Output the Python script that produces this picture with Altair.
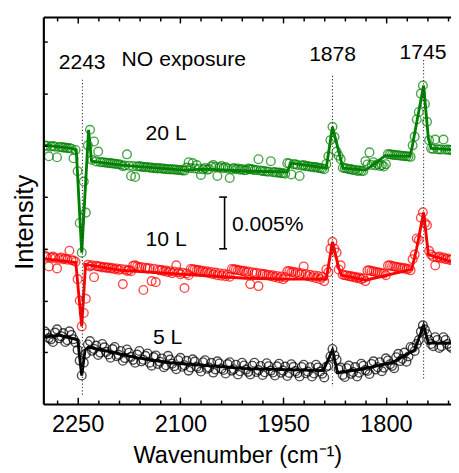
import altair as alt
import pandas as pd

FONT = "Liberation Sans"

# sampling grids of the measured spectra (cm-1)
wn_grid = [2298, 2292, 2286, 2280, 2274, 2268, 2262, 2256, 2250, 2244,
           2238, 2232, 2226, 2220, 2214, 2208, 2202, 2196, 2190, 2184,
           2178, 2172, 2166, 2160, 2154, 2148, 2142, 2136, 2130, 2124,
           2118, 2112, 2106, 2100, 2094, 2088, 2082, 2076, 2070, 2064,
           2058, 2052, 2046, 2040, 2034, 2028, 2022, 2016, 2010, 2004,
           1998, 1992, 1986, 1980, 1974, 1968, 1962, 1956, 1950, 1944,
           1938, 1932, 1926, 1920, 1914, 1908, 1902, 1896, 1890, 1884,
           1878, 1872, 1866, 1860, 1854, 1848, 1842, 1836, 1830, 1824,
           1818, 1812, 1806, 1800, 1794, 1788, 1782, 1776, 1770, 1764,
           1758, 1752, 1746, 1740, 1734, 1728, 1722, 1716, 1710, 1704]

wn_grid2 = [2295, 2289, 2283, 2277, 2271, 2265, 2259, 2253, 2247, 2241,
            2235, 2229, 2223, 2217, 2211, 2205, 2199, 2193, 2187, 2181,
            2175, 2169, 2163, 2157, 2151, 2145, 2139, 2133, 2127, 2121,
            2115, 2109, 2103, 2097, 2091, 2085, 2079, 2073, 2067, 2061,
            2055, 2049, 2043, 2037, 2031, 2025, 2019, 2013, 2007, 2001,
            1995, 1989, 1983, 1977, 1971, 1965, 1959, 1953, 1947, 1941,
            1935, 1929, 1923, 1917, 1911, 1905, 1899, 1893, 1887, 1881,
            1875, 1869, 1863, 1857, 1851, 1845, 1839, 1833, 1827, 1821,
            1815, 1809, 1803, 1797, 1791, 1785, 1779, 1773, 1767, 1761,
            1755, 1749, 1743, 1737, 1731, 1725, 1719, 1713, 1707]

# intensities (offset traces, units of 1e-4 %)
green_y = [249.9, 239.4, 249.4, 238.5, 248.4, 248.0, 247.5, 237.5, 225.0, 146.3,
           185.0, 265.0, 253.7, 244.0, 233.7, 233.2, 232.8, 232.3, 231.8, 229.9,
           241.3, 220.4, 219.5, 229.9, 229.4, 229.0, 228.5, 228.0, 228.0, 227.5,
           227.0, 227.0, 226.6, 226.1, 225.6, 233.7, 232.8, 230.9, 221.4, 228.0,
           227.0, 230.9, 220.4, 229.9, 229.0, 218.5, 228.0, 227.5, 227.0, 226.1,
           227.0, 226.1, 236.6, 225.2, 224.7, 234.7, 224.2, 223.7, 223.2, 232.8,
           221.9, 231.8, 220.4, 230.9, 229.9, 229.4, 229.0, 228.0, 227.0, 239.4,
           267.9, 244.0, 236.6, 228.0, 227.0, 226.1, 225.2, 225.2, 234.7, 243.2,
           233.7, 231.8, 230.9, 231.8, 241.3, 240.8, 240.4, 239.9, 239.4, 238.9,
           258.4, 282.2, 307.8, 272.7, 247.0, 255.6, 246.0, 255.6, 246.0, 245.6]

green_y2 = [249.5, 249.0, 248.7, 248.3, 247.8, 247.3, 246.8, 245.5, 175.0, 215.0,
            250.0, 236.0, 234.5, 233.8, 233.5, 233.0, 232.5, 231.9, 231.3, 230.6,
            230.3, 229.9, 229.6, 229.2, 228.8, 228.4, 228.0, 227.7, 227.4, 227.0,
            226.7, 226.4, 226.1, 225.8, 228.5, 228.0, 227.6, 227.2, 226.8, 226.4,
            229.5, 229.0, 228.5, 228.0, 227.6, 227.2, 226.8, 226.4, 226.0, 227.5,
            226.8, 226.2, 225.6, 225.0, 224.5, 224.0, 223.5, 223.0, 222.6, 232.5,
            231.8, 231.0, 230.4, 229.8, 229.3, 228.7, 228.2, 227.7, 232.0, 255.0,
            258.0, 240.0, 228.3, 227.7, 227.0, 226.4, 225.8, 225.3, 231.5, 231.0,
            230.5, 230.0, 229.5, 241.5, 241.0, 240.5, 240.0, 239.6, 239.2, 250.0,
            275.0, 300.0, 290.0, 255.0, 246.5, 246.2, 246.0, 245.8, 245.6]

red_y = [143.5, 133.0, 142.5, 131.1, 141.6, 140.6, 148.2, 138.7, 120.7, 75.1,
         101.7, 133.0, 122.6, 133.0, 132.0, 131.6, 131.1, 130.2, 129.7, 115.9,
         128.7, 128.3, 134.0, 132.0, 110.2, 131.1, 118.8, 117.8, 129.2, 128.3,
         127.3, 126.4, 134.0, 125.4, 112.1, 124.5, 130.2, 129.2, 128.3, 127.3,
         126.4, 125.4, 124.5, 124.0, 123.5, 123.1, 130.2, 129.2, 128.3, 127.3,
         115.9, 126.4, 114.0, 125.4, 124.5, 123.5, 122.6, 121.6, 120.7, 128.3,
         127.3, 126.4, 125.4, 133.0, 123.5, 122.6, 121.6, 120.7, 118.8, 127.3,
         156.8, 146.3, 134.0, 124.5, 123.5, 122.6, 121.6, 120.7, 118.8, 129.2,
         128.3, 127.3, 126.4, 124.5, 134.0, 133.0, 132.0, 131.1, 130.2, 129.2,
         144.4, 158.7, 185.3, 172.9, 144.4, 134.0, 142.5, 141.6, 140.6, 139.7]

red_y2 = [142.0, 141.5, 141.0, 140.5, 140.0, 139.5, 139.0, 137.5, 100.0, 88.0,
          134.5, 134.0, 133.5, 133.0, 132.5, 132.0, 131.5, 131.0, 130.5, 130.0,
          129.4, 133.5, 133.0, 132.4, 131.8, 131.2, 130.6, 130.0, 129.5, 129.0,
          128.4, 127.9, 127.3, 126.8, 126.2, 130.5, 130.0, 129.4, 128.8, 128.2,
          127.6, 127.0, 126.4, 125.8, 125.2, 130.5, 129.9, 129.3, 128.7, 128.0,
          127.4, 126.8, 126.2, 125.6, 125.0, 124.4, 123.8, 123.2, 122.6, 128.5,
          127.8, 127.1, 126.4, 125.7, 125.0, 124.3, 123.6, 122.9, 130.0, 150.0,
          150.0, 130.0, 125.0, 124.3, 123.6, 122.9, 122.2, 121.5, 129.0, 128.3,
          127.6, 126.9, 126.2, 133.8, 133.2, 132.6, 132.0, 131.4, 130.8, 140.0,
          160.0, 180.0, 175.0, 148.0, 142.5, 141.6, 140.8, 140.0, 139.2]

black_y = [70.3, 63.7, 59.9, 72.2, 65.6, 59.9, 70.3, 62.7, 52.3, 27.6,
           48.5, 60.8, 53.2, 47.5, 58.0, 50.4, 44.7, 55.1, 47.5, 41.8,
           52.7, 45.6, 39.9, 51.3, 42.8, 48.9, 37.1, 47.0, 40.9, 35.6,
           46.6, 39.0, 33.7, 44.7, 37.5, 32.3, 43.2, 36.1, 31.4, 42.3,
           35.2, 30.4, 41.3, 34.2, 29.5, 40.4, 33.7, 28.5, 39.9, 33.3,
           28.5, 39.9, 32.8, 28.0, 39.4, 32.3, 27.6, 39.0, 32.3, 27.1,
           38.5, 31.8, 26.6, 38.0, 31.4, 26.6, 38.0, 31.4, 25.7, 37.0,
           53.2, 42.8, 35.2, 26.1, 37.1, 30.9, 26.6, 39.0, 32.8, 29.0,
           41.3, 35.6, 31.8, 44.2, 38.5, 34.7, 48.5, 43.7, 40.9, 55.1,
           51.3, 61.8, 76.0, 67.5, 58.0, 64.6, 54.2, 64.6, 58.0, 54.2]

black_y2 = [68.0, 62.5, 69.0, 63.5, 68.6, 61.7, 66.8, 59.5, 42.0, 40.0,
            57.6, 51.4, 56.5, 49.7, 54.8, 47.9, 53.1, 46.2, 51.3, 44.4,
            49.6, 42.7, 47.8, 41.2, 46.6, 40.0, 45.4, 38.8, 44.1, 37.5,
            42.9, 36.6, 42.3, 36.0, 41.7, 35.3, 41.0, 34.7, 40.4, 34.1,
            39.8, 33.5, 39.2, 32.9, 38.6, 32.3, 38.0, 31.7, 37.3, 31.1,
            37.0, 30.9, 36.8, 30.7, 36.6, 30.5, 36.4, 30.3, 36.2, 30.1,
            36.0, 29.9, 35.8, 29.7, 35.6, 29.5, 35.4, 29.3, 36.0, 46.0,
            47.0, 33.5, 28.1, 34.6, 29.2, 35.7, 30.3, 37.0, 31.9, 38.7,
            33.5, 40.4, 35.2, 42.1, 36.9, 45.2, 41.5, 49.7, 46.0, 54.2,
            58.0, 70.0, 72.0, 61.9, 55.9, 61.9, 55.9, 61.9, 55.9]

# fitted curves (knots)
green_fit_wn = [2300, 2258.4, 2252.0, 2244, 2234.0, 2229.7, 2186.7, 2095.0, 2066.3, 2004.7,
                1944.4, 1938.7, 1887.1, 1878, 1862.7, 1829.7, 1825.4, 1801.1, 1765.2, 1762.4,
                1745, 1738.0, 1733.7, 1705]
green_fit_y = [250.3, 247.0, 245.6, 146.3, 265.0, 234.6, 230.9, 226.1, 227.0, 225.2,
               224.2, 232.8, 228.0, 267.9, 228.0, 226.1, 228.0, 240.0, 239.4, 246.0,
               307.8, 256.5, 247.0, 246.0]

red_fit_wn = [2300, 2252.7, 2244, 2238.4, 2186.7, 2004.7, 1944.4, 1887.1, 1878, 1869.1,
              1864.6, 1829.7, 1762.4, 1755.2, 1745, 1738.0, 1705]
red_fit_y = [140.6, 136.8, 75.1, 134.9, 129.2, 121.6, 120.7, 120.7, 156.8, 132.0,
             124.5, 119.7, 130.2, 150.0, 185.3, 144.4, 137.8]

black_fit_wn = [2300, 2277.1, 2258.4, 2249.8, 2244, 2239.1, 2234.0, 2162.4, 2115.1, 2004.7,
                1891.4, 1878, 1870.6, 1838.3, 1791.0, 1758.1, 1745, 1738.0, 1705]
black_fit_y = [64.6, 66.5, 63.7, 61.8, 27.6, 52.3, 55.1, 44.7, 39.9, 34.2,
               32.3, 52.3, 30.4, 33.3, 39.9, 52.3, 76.0, 58.9, 58.9]

series_names = ["20 L", "10 L", "5 L"]
series_colors = ["#008000", "#ff0000", "#000000"]
series_label_wn = [2120.8, 2120.8, 2118.6]
series_label_y = [255.6, 153.0, 58.0]

peak_labels = ["2243", "1878", "1745"]
peak_wn = [2243, 1878, 1745]
peak_label_wn = [2243.4, 1877.8, 1745.9]
peak_label_y = [324.0, 331.6, 333.5]
peak_line_top = [313.5, 317.3, 332.5]
peak_line_bottom = [7.6, 17.0, 22.8]

title_text = ["NO exposure"]
title_wn = [2095]
title_y = [326.8]

bar_wn = [2035.5]
bar_low = [150]
bar_high = [200]
cap_left = [2043.4, 2043.4]
cap_right = [2031.9, 2031.9]
cap_y = [150, 200]
bar_text = ["0.005%"]
bar_text_wn = [2024.7]
bar_text_y = [167.2]

x_major = [2250, 2100, 1950, 1800]
x_minor = [2280, 2220, 2190, 2160, 2130, 2070, 2040, 2010, 1980, 1920, 1890,
           1860, 1830, 1770, 1740, 1710]
y_ticks = [50, 100, 150, 200, 250, 300, 350]

# ---------------- data frames ----------------
circles = pd.concat(
    [pd.DataFrame({"wn": wn_grid, "y": ys, "series": n})
     for ys, n in zip([green_y, red_y, black_y], series_names)]
    + [pd.DataFrame({"wn": wn_grid2, "y": ys, "series": n})
       for ys, n in zip([green_y2, red_y2, black_y2], series_names)]
)
fits = pd.concat([
    pd.DataFrame({"wn": w, "y": ys, "series": n})
    for w, ys, n in zip([green_fit_wn, red_fit_wn, black_fit_wn],
                        [green_fit_y, red_fit_y, black_fit_y], series_names)
])
texts = pd.DataFrame({
    "wn": series_label_wn + peak_label_wn + title_wn,
    "y": series_label_y + peak_label_y + title_y,
    "label": series_names + peak_labels + title_text,
})
rules = pd.DataFrame({"wn": peak_wn, "top": peak_line_top, "bottom": peak_line_bottom})
bar = pd.DataFrame({"wn": bar_wn, "lo": bar_low, "hi": bar_high})
caps = pd.DataFrame({"x1": cap_left, "x2": cap_right, "y": cap_y})
bar_lab = pd.DataFrame({"wn": bar_text_wn, "y": bar_text_y, "label": bar_text})

x_scale = alt.Scale(domain=[1705, 2300], reverse=True, nice=False, zero=False)
y_scale = alt.Scale(domain=[0, 374], nice=False, zero=False)
color = alt.Color("series:N", scale=alt.Scale(domain=series_names, range=series_colors), legend=None)

common_axis = dict(grid=False, domainColor="black", tickColor="black", zindex=1)

ax_bottom_major = alt.Axis(
    orient="bottom", values=x_major, format="d", labelFlush=False,
    labelFont=FONT, labelFontSize=24, labelColor="black", labelBaseline="alphabetic",
    labelPadding=35, tickSize={"expr": "-7"}, tickWidth=1.5, domainWidth=2.2,
    title="Wavenumber (cm\u207b\u00b9)", titleFont=FONT, titleFontSize=24,
    titleFontWeight="normal", titleColor="black", titleX=197.5, titleY=59.7,
    titleBaseline="alphabetic", titleAlign="center", **common_axis)
ax_bottom_minor = alt.Axis(
    orient="bottom", values=x_minor, labels=False, domain=False,
    tickSize={"expr": "-4"}, tickWidth=1.5, title=None, **common_axis)
ax_top_major = alt.Axis(
    orient="top", values=x_major, labels=False, domainWidth=2.2,
    tickSize={"expr": "-6"}, tickWidth=1.5, title=None, **common_axis)
ax_top_minor = alt.Axis(
    orient="top", values=x_minor, labels=False, domain=False,
    tickSize={"expr": "-4"}, tickWidth=1.5, title=None, **common_axis)
ax_left = alt.Axis(
    orient="left", values=y_ticks, labels=False, domainWidth=2.2,
    tickSize={"expr": "-4"}, tickWidth=1.5,
    title="Intensity", titleFont=FONT, titleFontSize=26, titleFontWeight="normal",
    titleColor="black", titleX=-11, titleY=208.5, titleAngle=270,
    titleBaseline="alphabetic", titleAlign="center", **common_axis)

pts = alt.Chart(circles).mark_point(
    shape="circle", filled=False, size=78, strokeWidth=1.4, clip=True
).encode(
    x=alt.X("wn:Q", scale=x_scale, axis=ax_bottom_major),
    y=alt.Y("y:Q", scale=y_scale, axis=ax_left),
    color=color,
)

lines = alt.Chart(fits).mark_line(strokeWidth=2.9, clip=True).encode(
    x=alt.X("wn:Q", scale=x_scale, axis=ax_bottom_minor),
    y=alt.Y("y:Q", scale=y_scale, axis=None),
    color=color,
    detail="series:N",
)

dotted = alt.Chart(rules).mark_rule(
    strokeDash=[1.2, 2.2], strokeWidth=1.1, color="#333333"
).encode(
    x=alt.X("wn:Q", scale=x_scale, axis=ax_top_major),
    y=alt.Y("top:Q", scale=y_scale, axis=None),
    y2="bottom:Q",
)

labels = alt.Chart(texts).mark_text(
    font=FONT, fontSize=21.5, color="black", baseline="alphabetic", align="center"
).encode(
    x=alt.X("wn:Q", scale=x_scale, axis=ax_top_minor),
    y=alt.Y("y:Q", scale=y_scale, axis=None),
    text="label:N",
)

bar_rule = alt.Chart(bar).mark_rule(strokeWidth=1.6, color="black").encode(
    x=alt.X("wn:Q", scale=x_scale, axis=None),
    y=alt.Y("lo:Q", scale=y_scale, axis=None),
    y2="hi:Q",
)

cap_rule = alt.Chart(caps).mark_rule(strokeWidth=1.6, color="black").encode(
    x=alt.X("x1:Q", scale=x_scale, axis=None),
    x2="x2:Q",
    y=alt.Y("y:Q", scale=y_scale, axis=None),
)

bar_label = alt.Chart(bar_lab).mark_text(
    font=FONT, fontSize=21.5, color="black", baseline="alphabetic", align="left"
).encode(
    x=alt.X("wn:Q", scale=x_scale, axis=None),
    y=alt.Y("y:Q", scale=y_scale, axis=None),
    text="label:N",
)

chart = alt.layer(
    pts, lines, dotted, labels, bar_rule, cap_rule, bar_label
).resolve_axis(
    x="independent", y="independent"
).properties(
    width=415, height=394,
    autosize=alt.AutoSizeParams(type="none"),
    padding={"left": 36, "top": 5, "right": 0, "bottom": 65},
    background="white",
).configure_view(stroke=None)

chart.save("out.html", embed_options={"renderer": "svg", "actions": False})
